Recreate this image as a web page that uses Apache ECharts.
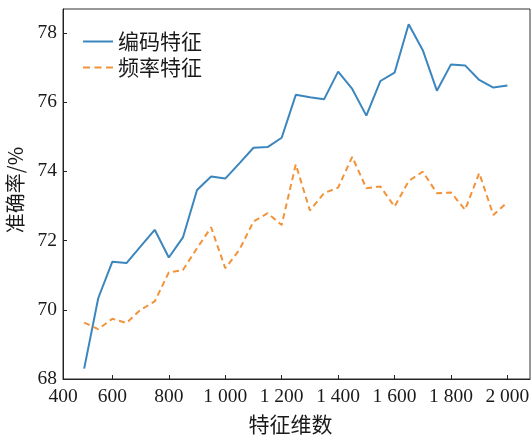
<!DOCTYPE html>
<html>
<head>
<meta charset="utf-8">
<script src="https://cdn.jsdelivr.net/npm/echarts@6/dist/echarts.min.js"></script>
<style>
  html, body { margin: 0; padding: 0; background: #fff; }
  #chart { width: 532px; height: 437px; }
</style>
</head>
<body>
<div id="chart"></div>
<script>
// Feature dimension (x) and accuracy (%) for the two feature types
const dims = [500, 550, 600, 650, 700, 750, 800, 850, 900, 950, 1000, 1050, 1100, 1150, 1200,
  1250, 1300, 1350, 1400, 1450, 1500, 1550, 1600, 1650, 1700, 1750, 1800, 1850, 1900, 1950, 2000];

const encodingAcc = [68.30, 70.34, 71.39, 71.35, 71.83, 72.31, 71.51, 72.09, 73.46, 73.85, 73.79,
  74.23, 74.68, 74.70, 74.97, 76.21, 76.14, 76.08, 76.88, 76.38, 75.61, 76.61, 76.85, 78.25,
  77.50, 76.33, 77.09, 77.06, 76.64, 76.42, 76.48];

const frequencyAcc = [69.63, 69.44, 69.74, 69.62, 70.00, 70.24, 71.08, 71.15, 71.78, 72.38, 71.20,
  71.73, 72.55, 72.79, 72.45, 74.20, 72.87, 73.37, 73.53, 74.42, 73.51, 73.56, 72.98, 73.72,
  73.99, 73.37, 73.39, 72.89, 73.95, 72.74, 73.11];

const seriesNames = ['编码特征', '频率特征'];

// Axis ticks and their labels
const xTickValues = [425, 600, 800, 1000, 1200, 1400, 1600, 1800, 2000];
const xTickLabels = ['400', '600', '800', '1 000', '1 200', '1 400', '1 600', '1 800', '2 000'];
const yTickValues = [68, 70, 72, 74, 76, 78];

const xName = '特征维数';
const yName = '准确率/%';

const serif = '"Liberation Serif", "Noto Sans CJK SC", serif';
const cjk = '"Noto Sans CJK SC", sans-serif';
const ink = '#1a1a1a';
const blue = '#3c86be';
const orange = '#f39339';

// Legend keys: a solid stroke and a three-dash stroke
const solidKey = 'path://M0,0h30v2h-30z';
const dashedKey = 'path://M0,0h7v2h-7zM11.5,0h7v2h-7zM23,0h7v2h-7z';

const chart = echarts.init(document.getElementById('chart'), null, { renderer: 'canvas' });

const xLabelMap = {};
xTickValues.forEach((v, i) => { xLabelMap[v] = xTickLabels[i]; });

chart.setOption({
  animation: false,
  backgroundColor: '#fff',
  grid: {
    left: 63, right: 2, top: 9, bottom: 58,
    outerBoundsMode: 'none',
    containLabel: false,
    show: true, borderColor: '#333', borderWidth: 1
  },
  legend: {
    orient: 'vertical',
    left: 83, top: 31,
    padding: 0,
    itemWidth: 30, itemHeight: 2, itemGap: 5,
    textStyle: { fontFamily: cjk, fontSize: 21, color: ink, lineHeight: 21 },
    data: [
      { name: seriesNames[0], icon: solidKey },
      { name: seriesNames[1], icon: dashedKey }
    ]
  },
  xAxis: {
    type: 'value',
    min: 425, max: 2080,
    name: xName,
    nameLocation: 'middle',
    nameGap: 35,
    nameTextStyle: { fontFamily: cjk, fontSize: 21, color: ink, padding: [0, 12, 0, 0] },
    splitLine: { show: false },
    axisLine: { show: true, lineStyle: { color: '#222', width: 1 } },
    axisTick: { show: true, inside: true, length: 4, lineStyle: { color: '#222' },
      customValues: xTickValues.slice(1) },
    axisLabel: {
      customValues: xTickValues,
      fontFamily: serif, fontSize: 19.5, color: ink, margin: 8,
      formatter: v => xLabelMap[v] !== undefined ? xLabelMap[v] : ''
    }
  },
  yAxis: {
    type: 'value',
    min: 68, max: 78.69,
    name: yName,
    nameLocation: 'middle',
    nameGap: 38,
    nameTextStyle: { fontFamily: cjk, fontSize: 20, color: ink, padding: [0, 0, 0, 8] },
    splitLine: { show: false },
    axisLine: { show: true, lineStyle: { color: '#222', width: 1 } },
    axisTick: { show: true, inside: true, length: 4, lineStyle: { color: '#222' },
      customValues: yTickValues.slice(1) },
    axisLabel: {
      customValues: yTickValues,
      fontFamily: serif, fontSize: 19.5, color: ink, margin: 6
    }
  },
  series: [
    {
      name: seriesNames[0],
      type: 'line',
      data: dims.map((d, i) => [d, encodingAcc[i]]),
      symbol: 'none',
      lineStyle: { color: blue, width: 2 },
      itemStyle: { color: blue }
    },
    {
      name: seriesNames[1],
      type: 'line',
      data: dims.map((d, i) => [d, frequencyAcc[i]]),
      symbol: 'none',
      lineStyle: { color: orange, width: 2, type: [6, 4] },
      itemStyle: { color: orange }
    }
  ]
});
</script>
</body>
</html>
